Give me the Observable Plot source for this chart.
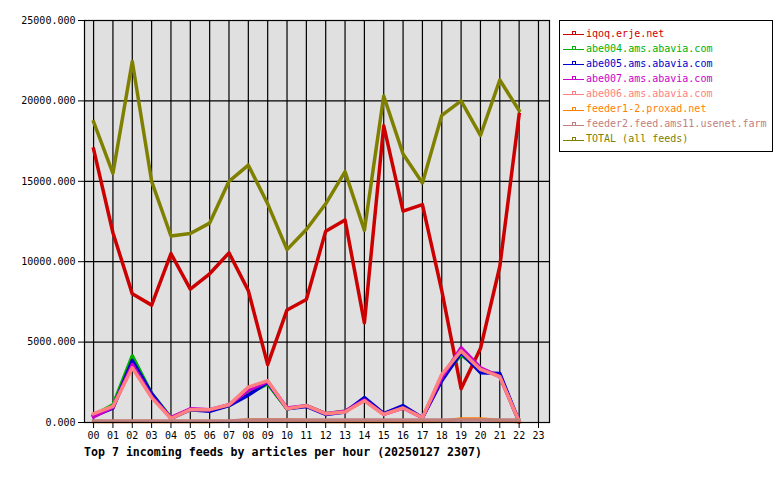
<!DOCTYPE html>
<html><head><meta charset="utf-8">
<script src="https://cdn.jsdelivr.net/npm/d3@7"></script>
<script src="https://cdn.jsdelivr.net/npm/@observablehq/plot@0.6"></script>
<style>
body{margin:0;background:#fff;font-family:"DejaVu Sans Mono",monospace;}
#wrap{position:relative;width:780px;height:480px;}
#chart{position:absolute;left:0;top:0;}
#title{position:absolute;left:84px;top:445px;font-weight:bold;font-size:11.6px;line-height:14px;white-space:nowrap;}
#legend{position:absolute;left:559px;top:20px;width:212px;height:130px;border:1px solid #000;background:#fff;}
.item{position:absolute;left:3px;height:15px;font-size:10px;line-height:15px;display:flex;align-items:center;white-space:nowrap;}
.item svg{margin-right:2px;}
</style></head>
<body>
<div id="wrap">
  <div id="chart"></div>
  <div id="legend"></div>
  <div id="title">Top 7 incoming feeds by articles per hour (20250127 2307)</div>
</div>
<script>
const hours = ["00","01","02","03","04","05","06","07","08","09","10","11","12","13","14","15","16","17","18","19","20","21","22","23"];
const yTicks = [0, 5000, 10000, 15000, 20000, 25000];

const seriesNames = ["iqoq.erje.net","abe004.ams.abavia.com","abe005.ams.abavia.com","abe007.ams.abavia.com","abe006.ams.abavia.com","feeder1-2.proxad.net","feeder2.feed.ams11.usenet.farm","TOTAL (all feeds)"];
const seriesColors = ["#cc0000","#00b000","#0000cc","#cc00cc","#ff8080","#ff8000","#c08080","#808000"];

const iqoq    = [17000,11800,8000,7300,10500,8300,9250,10550,8200,3600,7000,7650,11900,12600,6200,18450,13150,13550,8200,2100,4600,9700,19150];
const abe004  = [450,1100,4150,1800,300,800,750,1050,1800,2400,850,1050,550,700,1400,550,950,300,2800,4200,3300,2900,50];
const abe005  = [400,900,3850,1800,250,800,700,1050,1700,2500,850,1000,500,650,1550,550,1050,300,2600,4350,3100,3050,50];
const abe007  = [350,950,3600,1600,300,850,800,1100,2000,2550,900,1050,550,700,1400,500,900,300,2800,4650,3400,2850,50];
const abe006  = [550,1000,3400,1550,250,800,800,1100,2200,2600,850,1050,550,650,1350,500,900,300,3000,4450,3300,2850,50];
const feeder1 = [60,60,60,60,60,60,60,80,150,150,150,120,60,60,60,60,60,60,80,220,220,120,50];
const feeder2 = [100,100,100,100,100,100,100,100,150,150,150,150,150,150,150,150,150,150,150,150,150,150,150];
const total   = [18700,15500,22450,15000,11600,11750,12400,15000,16000,13600,10750,12000,13600,15600,11950,20300,16700,14900,19100,20000,17850,21300,19400];

const seriesValues = [iqoq, abe004, abe005, abe007, abe006, feeder1, feeder2, total];

const hourIdx = hours.map((h, i) => i);

const lineMarks = seriesValues.map((vals, s) => {
  const rows = vals.map((v, i) => ({hour: i, value: v}));
  return Plot.line(rows, {x: "hour", y: "value", stroke: seriesColors[s], strokeWidth: 3.5, strokeLinejoin: "round", strokeLinecap: "square"});
});

const chart = Plot.plot({
  width: 780,
  height: 440,
  marginLeft: 84,
  marginRight: 231,
  marginTop: 20,
  marginBottom: 18,
  style: {fontFamily: "'DejaVu Sans Mono', monospace", fontSize: "10px", color: "#000", background: "transparent"},
  x: {type: "linear", domain: [-0.47, 23.57]},
  y: {domain: [0, 25000]},
  marks: [
    Plot.frame({fill: "#e0e0e0", stroke: null}),
    Plot.ruleX(hourIdx, {stroke: "#000", strokeWidth: 1.2, strokeOpacity: 1}),
    Plot.ruleY(yTicks.slice(1, -1), {stroke: "#000", strokeWidth: 1.2, strokeOpacity: 1}),
    ...lineMarks,
    Plot.frame({stroke: "#000", strokeWidth: 1.2}),
    Plot.axisX({ticks: hourIdx, tickFormat: i => hours[i], tickSize: 6, tickPadding: 3, label: null, fontSize: 10, strokeOpacity: 1}),
    Plot.axisY({ticks: yTicks, tickFormat: d3.format(".3f"), tickSize: 6, tickPadding: 3, label: null, fontSize: 10, strokeOpacity: 1})
  ]
});
document.getElementById("chart").appendChild(chart);

const legend = document.getElementById("legend");
seriesNames.forEach((name, i) => {
  const c = seriesColors[i];
  const div = document.createElement("div");
  div.className = "item";
  div.style.top = (4.5 + i * 15.1) + "px";
  div.style.color = c;
  div.innerHTML = `<svg width="21" height="8"><line x1="0" y1="5.5" x2="21" y2="5.5" stroke="${c}" stroke-width="1"/><rect x="9.5" y="2.5" width="3" height="3" fill="none" stroke="${c}" stroke-width="1"/></svg><span>${name}</span>`;
  legend.appendChild(div);
});
</script>
</body></html>
